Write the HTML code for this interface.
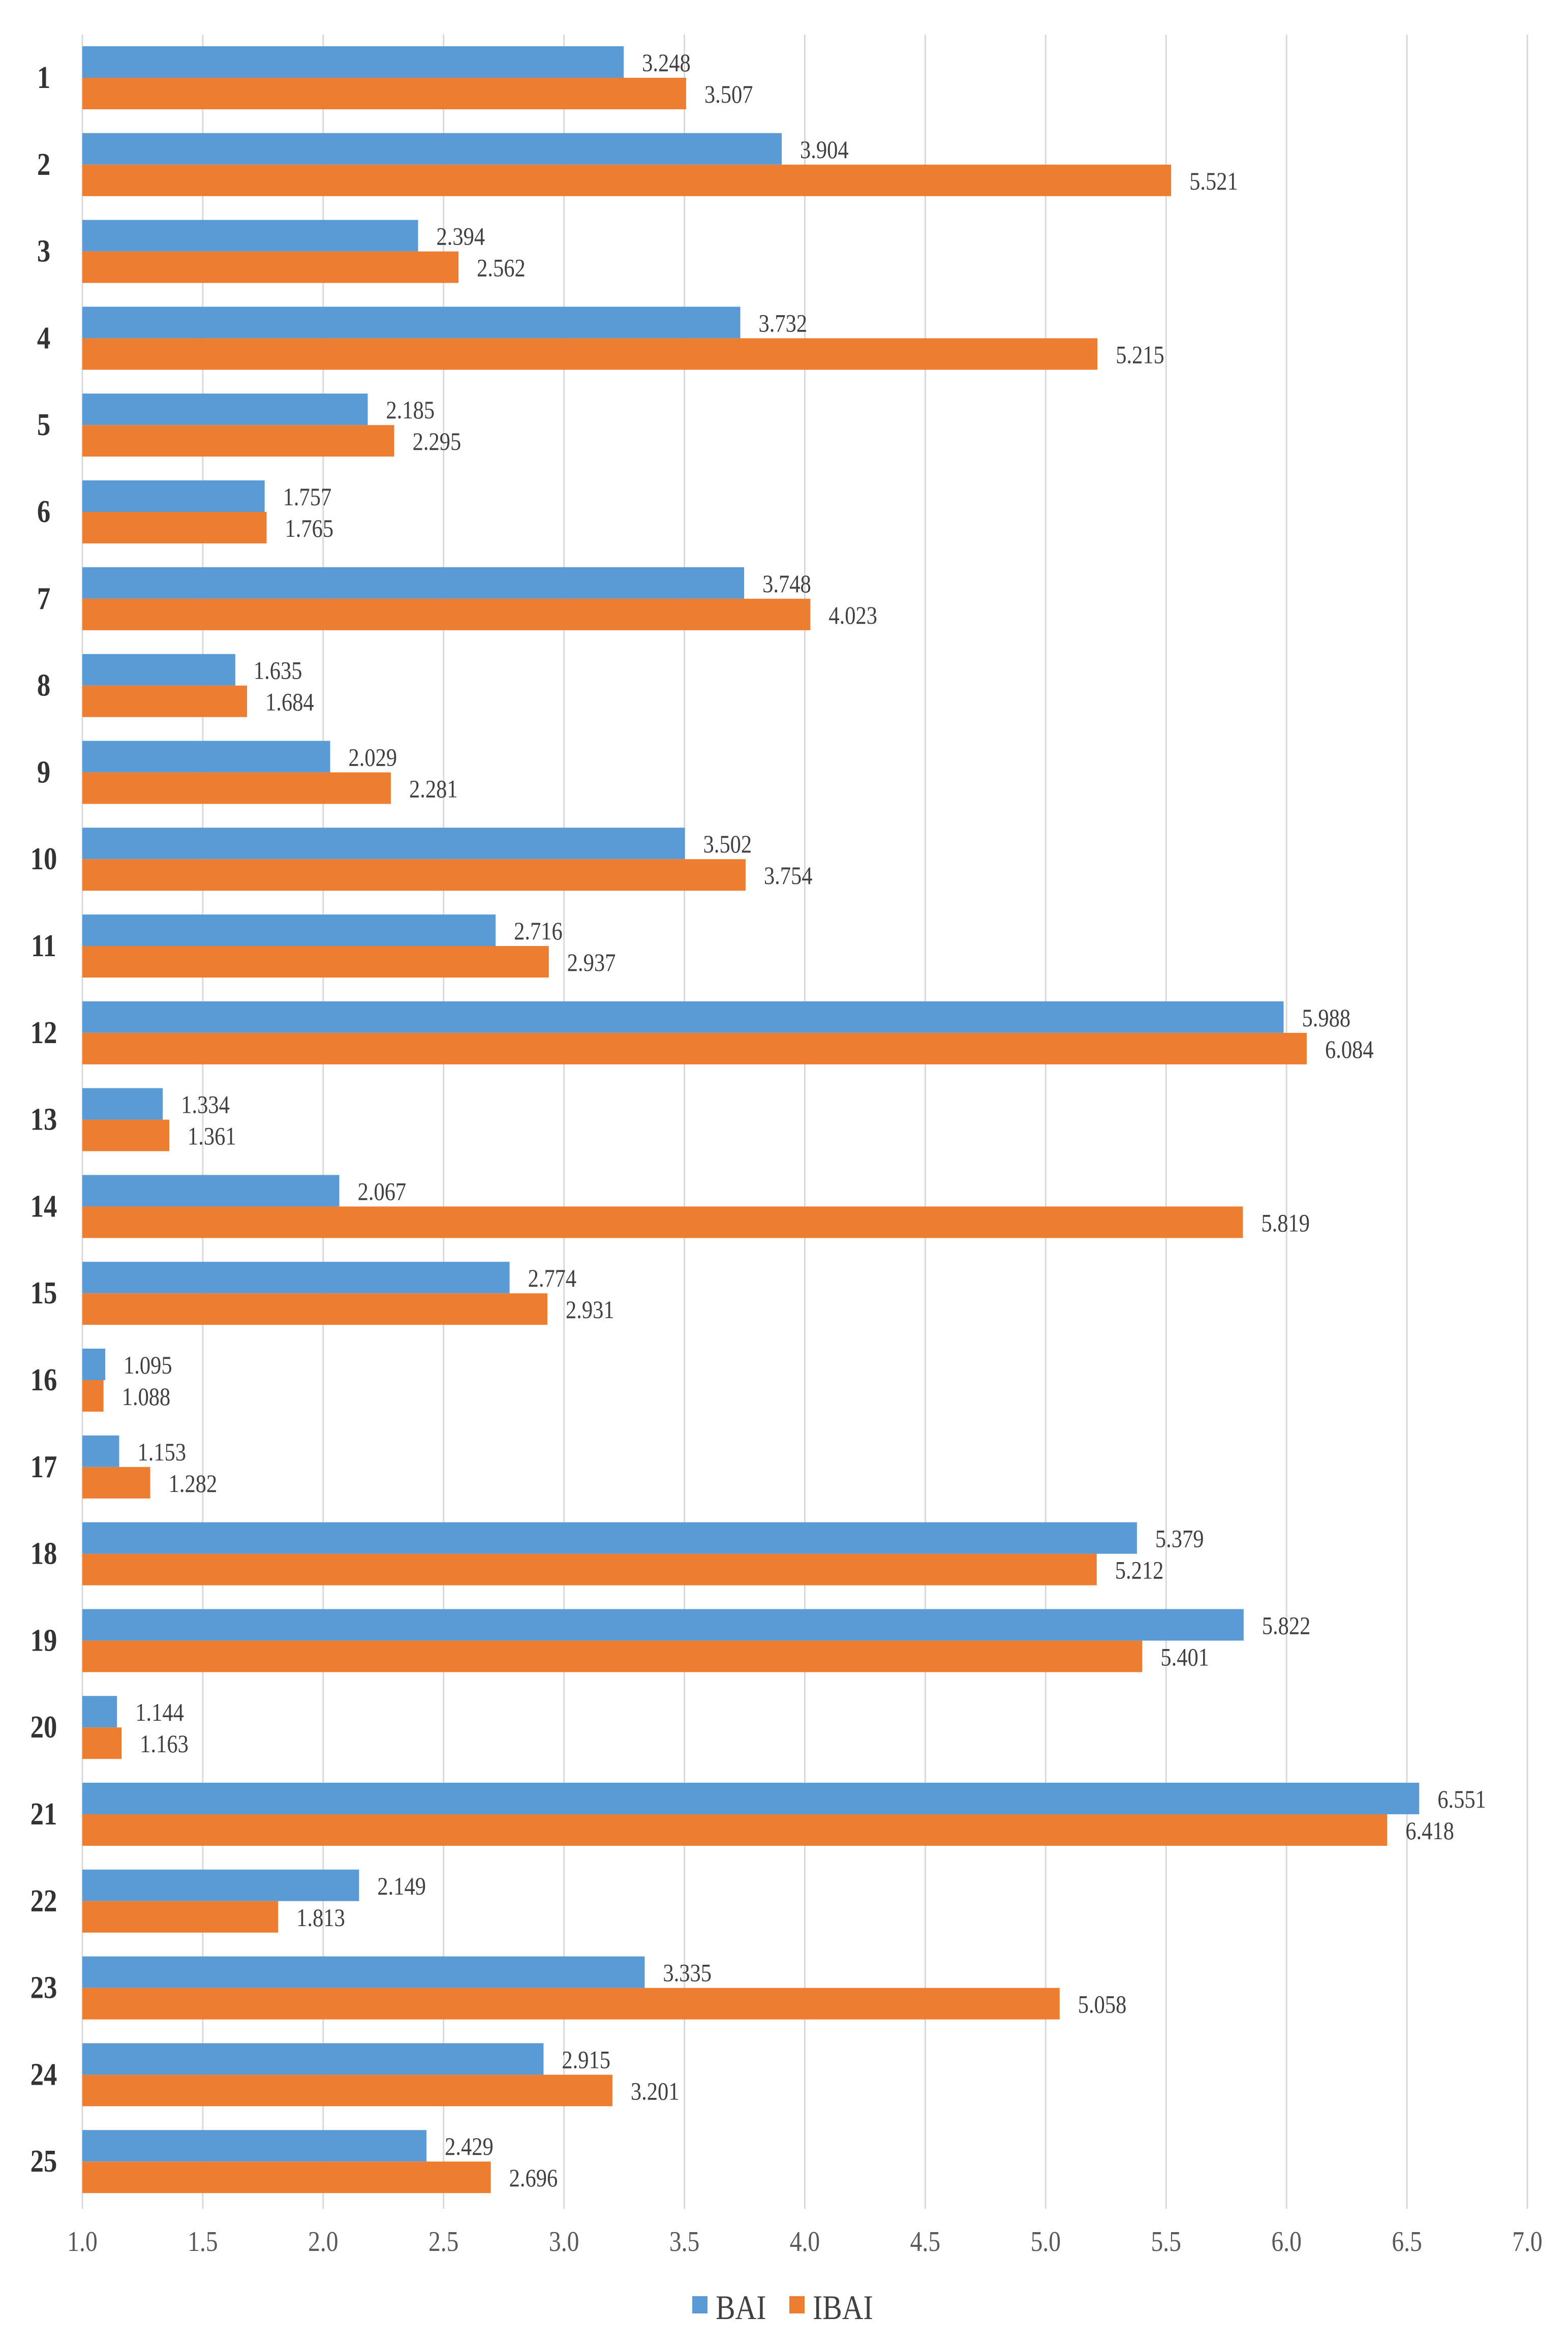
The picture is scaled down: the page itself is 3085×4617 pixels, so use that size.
<!DOCTYPE html>
<html><head><meta charset="utf-8"><style>
html,body{margin:0;padding:0;background:#fff;}
svg{display:block;}
text{font-family:"Liberation Serif",serif;}
</style></head><body>
<svg id="chart" width="3085" height="4617" viewBox="0 0 3085 4617" xmlns="http://www.w3.org/2000/svg"></svg>
<script>
const categories = ["1","2","3","4","5","6","7","8","9","10","11","12","13","14","15","16","17","18","19","20","21","22","23","24","25"];
const baiValues = [3.248,3.904,2.394,3.732,2.185,1.757,3.748,1.635,2.029,3.502,2.716,5.988,1.334,2.067,2.774,1.095,1.153,5.379,5.822,1.144,6.551,2.149,3.335,2.915,2.429];
const ibaiValues = [3.507,5.521,2.562,5.215,2.295,1.765,4.023,1.684,2.281,3.754,2.937,6.084,1.361,5.819,2.931,1.088,1.282,5.212,5.401,1.163,6.418,1.813,5.058,3.201,2.696];
const xTicks = [1.0,1.5,2.0,2.5,3.0,3.5,4.0,4.5,5.0,5.5,6.0,6.5,7.0];

const NS="http://www.w3.org/2000/svg";
const svg=document.getElementById('chart');
const X0=162, X1=3005, xMin=1, xMax=7;
const xs=v=>X0+(v-xMin)/(xMax-xMin)*(X1-X0);
const rowTop=153, rowStep=170.8, barH=62;
const ys=i=>rowTop+i*rowStep;
const SX=0.85;
function mk(tag,attrs){const e=document.createElementNS(NS,tag);for(const k in attrs)e.setAttribute(k,attrs[k]);svg.appendChild(e);return e;}
function txt(x,y,s,size,anchor,weight,fill){
  const t=mk('text',{x:x/SX,y:y,'font-size':size,'text-anchor':anchor,'font-weight':weight,fill:fill,transform:`scale(${SX},1)`});
  t.textContent=s;return t;
}
xTicks.forEach(v=>{
  const l=mk('line',{x1:xs(v),x2:xs(v),y1:68,y2:4345,stroke:'#d9d9d9','stroke-width':3});
  
  
  const t=txt(xs(v),4428,v.toFixed(1),56,'middle','normal','#595959');
  
  
});
categories.forEach((c,i)=>{
  const cy=ys(i);
  const t=txt(86,cy+20,c,62,'middle','bold','#333333');
  
  
  const b=mk('rect',{x:X0,y:cy-barH,width:xs(baiValues[i])-X0,height:barH,fill:'#5b9bd5'});
  
  
  const o=mk('rect',{x:X0,y:cy,width:xs(ibaiValues[i])-X0,height:barH,fill:'#ed7d31'});
  
  
  const lb=txt(xs(baiValues[i])+36,cy-barH/2+18,baiValues[i].toFixed(3),50,'start','normal','#404040');
  
  
  const lo=txt(xs(ibaiValues[i])+36,cy+barH/2+18,ibaiValues[i].toFixed(3),50,'start','normal','#404040');
  
  
});
const s1=mk('rect',{x:1362,y:4517,width:30,height:34,fill:'#5b9bd5'});


const l1=txt(1408,4562,'BAI',68,'start','normal','#404040');


const s2=mk('rect',{x:1553,y:4517,width:30,height:34,fill:'#ed7d31'});


const l2=txt(1599,4562,'IBAI',68,'start','normal','#404040');


</script>
</body></html>
